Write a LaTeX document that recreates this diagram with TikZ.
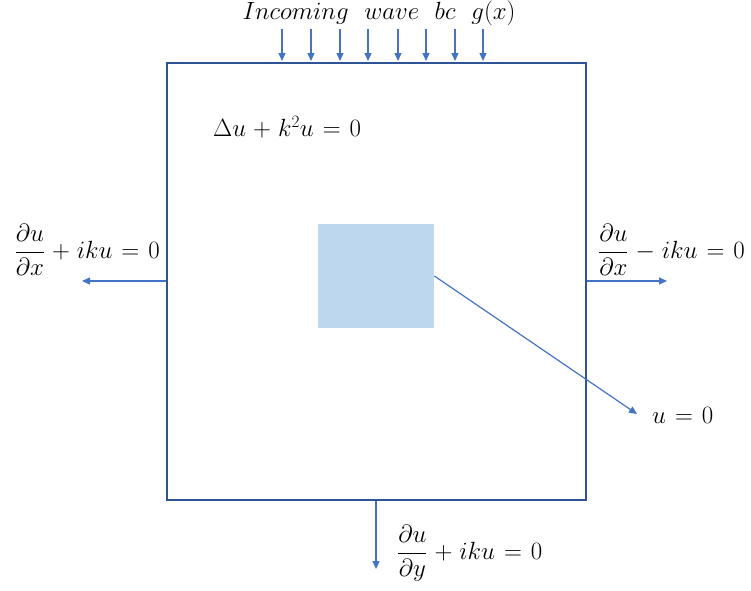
\documentclass[tikz,border=0pt]{standalone}
\usetikzlibrary{arrows.meta}
\definecolor{boxblue}{RGB}{47,84,150}
\definecolor{arrblue}{RGB}{68,114,196}
\definecolor{fillblue}{RGB}{189,215,238}
\newcommand\lblspacing{\medmuskip=5mu\relax\thickmuskip=6.5mu\relax}
\begin{document}
\begin{tikzpicture}[x=1pt,y=-1pt,
  arr/.style={draw=arrblue, line width=1.2pt, -{Triangle[length=8pt,width=7pt]}},
  lbl/.style={inner sep=0pt, font=\fontsize{26}{30}\selectfont\lblspacing}]
\useasboundingbox (0,0) rectangle (751,590);
\node[draw=boxblue, line width=1.8pt, minimum width=419pt, minimum height=437pt, anchor=north west, inner sep=0pt] (dom) at (166,62) {};
\node[fill=fillblue, minimum width=116pt, minimum height=104pt, anchor=north west, inner sep=0pt] (obs) at (318,224) {};
\node[lbl, anchor=base] (title) at (379,19) {$Incoming\ \ wave\ \ bc\ \ g(x)$};
\node[lbl, anchor=west] (eq) at (213,127) {$\Delta u + k^2 u = 0$};
\node[lbl, anchor=east] (lft) at (160,250) {$\displaystyle\frac{\partial u}{\partial x} + iku = 0$};
\node[lbl, anchor=west] (rgt) at (598,250) {$\displaystyle\frac{\partial u}{\partial x} - iku = 0$};
\node[lbl, anchor=west] (bot) at (397,553) {$\displaystyle\frac{\partial u}{\partial y} + iku = 0$};
\node[lbl, anchor=west] (uz) at (652,415) {$u = 0$};
\foreach \x in {282,311,340,368,398,426,455,483}
  \draw[arr] (\x,29) -- (\x,61);
\coordinate (lend) at (82,281);
\coordinate (rend) at (667,281);
\coordinate (bend) at (376,569);
\coordinate (dend) at (637,414);
\draw[arr] (dom.west |- lend) -- (lend);
\draw[arr] (dom.east |- rend) -- (rend);
\draw[arr] (dom.south -| bend) -- (bend);
\draw[arr] (obs.east |- 0,276) -- (dend);
\end{tikzpicture}
\end{document}
